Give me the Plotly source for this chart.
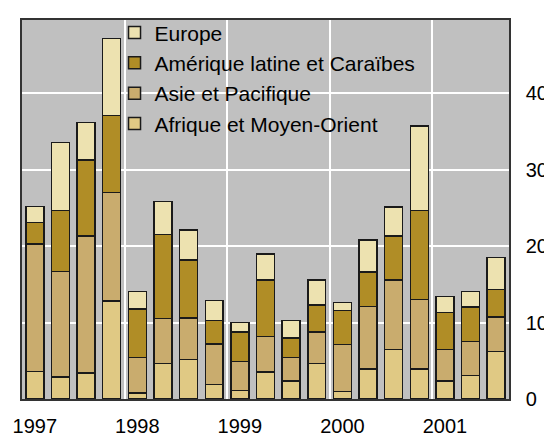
import plotly.graph_objects as go

quarters = list(range(19))
year_ticks = [0, 4, 8, 12, 16]
year_labels = ["1997", "1998", "1999", "2000", "2001"]

afrique = [3.6, 2.9, 3.4, 12.8, 0.8, 4.65, 5.2, 1.9, 1.1, 3.55,
           2.35, 4.65, 1.0, 3.9, 6.45, 3.9, 2.35, 3.1, 6.2]
asie = [16.7, 13.8, 17.9, 14.2, 4.6, 5.9, 5.4, 5.3, 3.8, 4.65,
        3.05, 4.1, 6.15, 8.2, 9.15, 9.1, 4.1, 4.4, 4.5]
amerique = [2.8, 8.0, 10.0, 10.1, 6.4, 11.0, 7.6, 3.1, 3.9, 7.4,
            2.6, 3.55, 4.45, 4.5, 5.7, 11.65, 4.85, 4.55, 3.6]
europe = [2.1, 8.9, 4.9, 10.1, 2.3, 4.3, 3.9, 2.6, 1.2, 3.4,
          2.3, 3.3, 1.0, 4.2, 3.8, 11.1, 2.1, 2.05, 4.2]

series = [
    ("Afrique et Moyen-Orient", afrique, "#E0C984"),
    ("Asie et Pacifique", asie, "#C9AC6E"),
    ("Amérique latine et Caraïbes", amerique, "#B08D26"),
    ("Europe", europe, "#EDE2B0"),
]

BG = "#C0C0C0"

fig = go.Figure()
for name, vals, col in series:
    fig.add_trace(go.Bar(
        x=quarters, y=vals, name=name, width=0.7,
        marker=dict(color=col, line=dict(color="#1a1a1a", width=1.5)),
    ))

# legend background panel (hides gridlines behind the legend, stays under the bars)
fig.add_shape(
    type="rect", xref="paper", yref="paper",
    x0=0.209, x1=0.838, y0=0.674, y1=0.996,
    fillcolor=BG, line=dict(width=0), layer="between",
)

font = "Liberation Sans, Arial, sans-serif"
# page body has an 8px default margin: figure is sized so the plot lands where the reference has it
fig.update_layout(
    width=544, height=430,
    margin=dict(l=14, r=43, t=4, b=39),
    barmode="stack",
    paper_bgcolor="white",
    plot_bgcolor=BG,
    font=dict(family=font, size=20, color="black"),
    legend=dict(
        x=0.19, y=1.02, xanchor="left", yanchor="top",
        bgcolor="rgba(0,0,0,0)", traceorder="reversed",
        font=dict(size=21), borderwidth=0,
        tracegroupgap=0,
    ),
    bargap=0.3,
)
fig.update_xaxes(
    range=[-0.5, 18.5], automargin=False,
    tickmode="array", tickvals=year_ticks, ticktext=year_labels,
    showgrid=False, zeroline=False,
    ticks="outside", ticklen=8, tickcolor="rgba(0,0,0,0)",
    showline=True, linecolor="#333333", linewidth=1.5, mirror=True,
    minor=dict(tick0=3.5, dtick=4, showgrid=True, gridcolor="white", gridwidth=1.5, ticks=""),
)
fig.update_yaxes(
    range=[0, 49.6], side="right", automargin=False,
    tickmode="array", tickvals=[0, 10, 20, 30, 40],
    showgrid=True, gridcolor="white", gridwidth=1.5, zeroline=False,
    ticks="outside", ticklen=11, tickcolor="rgba(0,0,0,0)",
    showline=True, linecolor="#333333", linewidth=1.5, mirror=True,
)
fig.write_html("out.html")
